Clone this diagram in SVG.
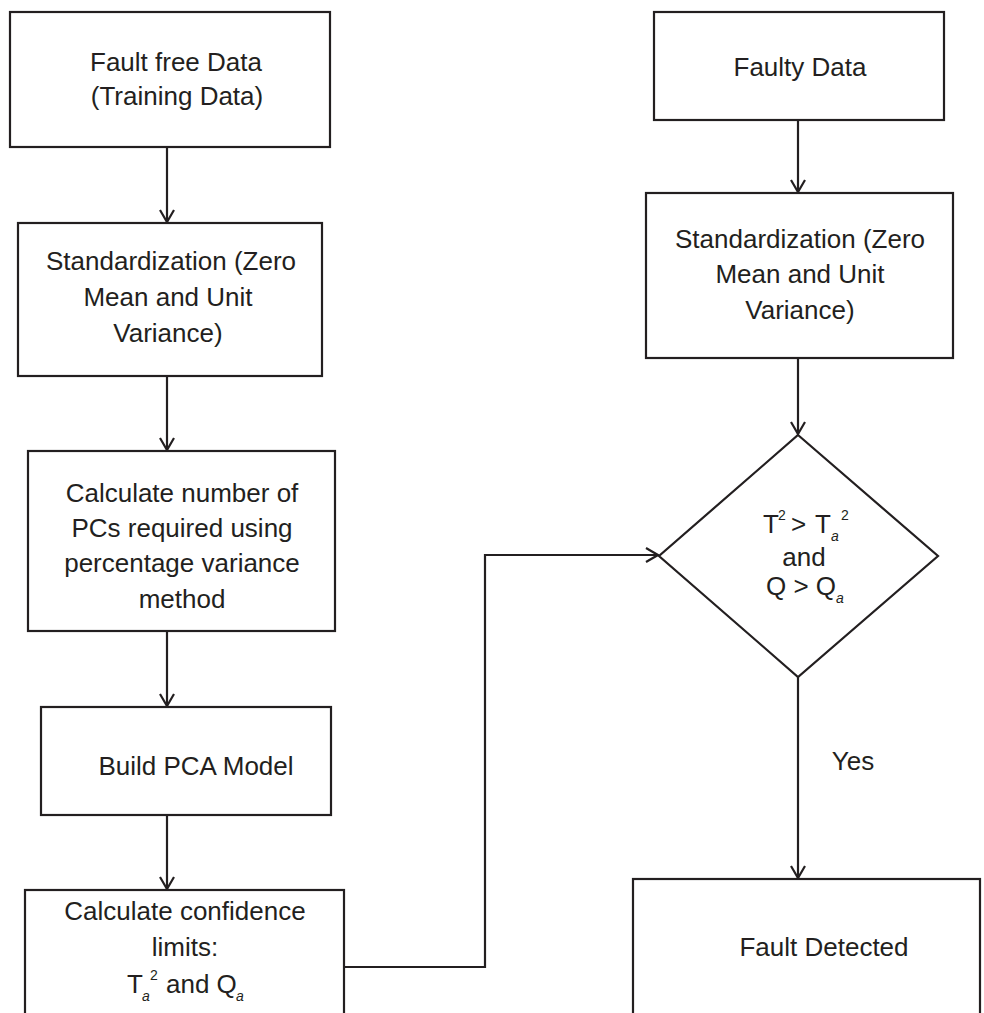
<svg xmlns="http://www.w3.org/2000/svg" width="984" height="1013" viewBox="0 0 984 1013">
<style>
.box{fill:#fff;stroke:#231f20;stroke-width:2.2}
.t{font-family:"Liberation Sans",Arial,sans-serif;font-size:26px;fill:#231f20;text-anchor:middle}
.s{font-family:"Liberation Sans",Arial,sans-serif;font-size:14px;fill:#231f20}
.si{font-family:"Liberation Sans",Arial,sans-serif;font-size:14px;font-style:italic;fill:#231f20}
.ln{fill:none;stroke:#231f20;stroke-width:2.2}
</style>
<defs>
<marker id="ah" viewBox="0 0 14 16" refX="13" refY="8" markerWidth="14" markerHeight="16" markerUnits="userSpaceOnUse" orient="auto">
<path d="M1,1 L13,8 L1,15" fill="none" stroke="#231f20" stroke-width="2.2"/>
</marker>
</defs>
<rect width="984" height="1013" fill="#fff"/>
<g id="connectors">
<line class="ln" x1="167" y1="147" x2="167" y2="222" marker-end="url(#ah)"/>
<line class="ln" x1="167" y1="376" x2="167" y2="450" marker-end="url(#ah)"/>
<line class="ln" x1="167" y1="631" x2="167" y2="706" marker-end="url(#ah)"/>
<line class="ln" x1="167" y1="815" x2="167" y2="889" marker-end="url(#ah)"/>
<path class="ln" d="M344,967 L485,967 L485,555 L658,555" marker-end="url(#ah)"/>
<line class="ln" x1="798" y1="120" x2="798" y2="192" marker-end="url(#ah)"/>
<line class="ln" x1="798" y1="358" x2="798" y2="434" marker-end="url(#ah)"/>
<line class="ln" x1="798" y1="677" x2="798" y2="878" marker-end="url(#ah)"/>
<text class="t" x="853" y="770">Yes</text>
</g>
<g id="n1">
<rect class="box" x="10" y="12" width="320" height="135"/>
<text class="t" x="176" y="71">Fault free Data</text>
<text class="t" x="177" y="105">(Training Data)</text>
</g>
<g id="n2">
<rect class="box" x="18" y="223" width="304" height="153"/>
<text class="t" x="171" y="270">Standardization (Zero</text>
<text class="t" x="168" y="306">Mean and Unit</text>
<text class="t" x="168" y="342">Variance)</text>
</g>
<g id="n3">
<rect class="box" x="28" y="451" width="307" height="180"/>
<text class="t" x="182" y="502">Calculate number of</text>
<text class="t" x="182" y="537">PCs required using</text>
<text class="t" x="182" y="572">percentage variance</text>
<text class="t" x="182" y="608">method</text>
</g>
<g id="n4">
<rect class="box" x="41" y="707" width="290" height="108"/>
<text class="t" x="196" y="775">Build PCA Model</text>
</g>
<g id="n5">
<rect class="box" x="25" y="890" width="319" height="140"/>
<text class="t" x="185" y="920">Calculate confidence</text>
<text class="t" x="185" y="956">limits:</text>
<text class="t" x="135" y="993">T</text>
<text class="si" x="142" y="1001">a</text>
<text class="s" x="150" y="980">2</text>
<text class="t" x="166" y="993" style="text-anchor:start">and Q</text>
<text class="si" x="236" y="1001">a</text>
</g>
<g id="n6">
<rect class="box" x="654" y="12" width="290" height="108"/>
<text class="t" x="800" y="76">Faulty Data</text>
</g>
<g id="n7">
<rect class="box" x="646" y="193" width="307" height="165"/>
<text class="t" x="800" y="248">Standardization (Zero</text>
<text class="t" x="800" y="283">Mean and Unit</text>
<text class="t" x="800" y="319">Variance)</text>
</g>
<g id="n8">
<polygon class="box" points="798,435 938,556 798,677 659,556"/>
<text class="t" x="763" y="533" style="text-anchor:start">T</text>
<text class="s" x="778" y="520">2</text>
<text class="t" x="791" y="533" style="text-anchor:start">&gt;</text>
<text class="t" x="815" y="533" style="text-anchor:start">T</text>
<text class="si" x="831" y="541">a</text>
<text class="s" x="841" y="520">2</text>
<text class="t" x="804" y="566">and</text>
<text class="t" x="766" y="595" style="text-anchor:start">Q &gt; Q</text>
<text class="si" x="836" y="603">a</text>
</g>
<g id="n9">
<rect class="box" x="633" y="879" width="347" height="150"/>
<text class="t" x="824" y="956">Fault Detected</text>
</g>
</svg>
